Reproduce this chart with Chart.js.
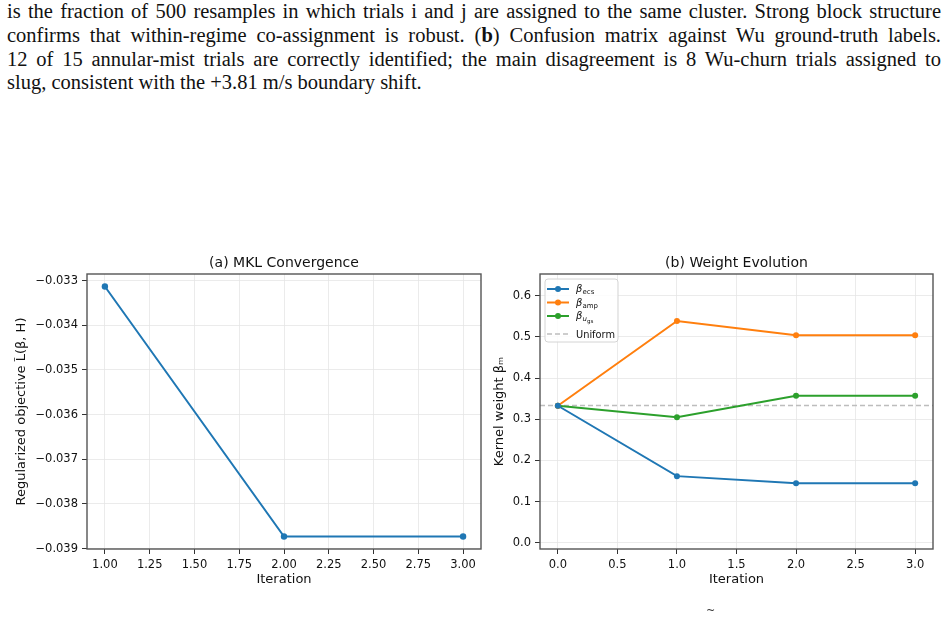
<!DOCTYPE html>
<html>
<head>
<meta charset="utf-8">
<script src="https://cdn.jsdelivr.net/npm/chart.js@4.4.1/dist/chart.umd.min.js"></script>
<style>
  body { margin: 0; width: 948px; height: 618px; background: #fff; position: relative; overflow: hidden; }
  .cap { position: absolute; left: 7px; width: 934px; font-family: "Liberation Serif", serif; font-size: 20.5px; color: #111; line-height: 23.8px; }
  .cap div { text-align: justify; text-align-last: justify; white-space: nowrap; }
  .cap div.last { text-align-last: left; }
  #left { position: absolute; left: 0; top: 250px; }
  #right { position: absolute; left: 490px; top: 250px; }
  .tilde { position: absolute; left: 706px; top: 604px; font: 11px "DejaVu Sans"; color: #333; }
</style>
</head>
<body>
<div class="cap" style="top:0px">
  <div>is the fraction of 500 resamples in which trials i and j are assigned to the same cluster. Strong block structure</div>
  <div>confirms that within-regime co-assignment is robust. (<b>b</b>) Confusion matrix against Wu ground-truth labels.</div>
  <div>12 of 15 annular-mist trials are correctly identified; the main disagreement is 8 Wu-churn trials assigned to</div>
  <div class="last">slug, consistent with the +3.81 m/s boundary shift.</div>
</div>
<canvas id="left" width="490" height="360"></canvas>
<canvas id="right" width="458" height="360"></canvas>
<div class="tilde">~</div>
<script>
// (a) objective per iteration
const iterA = [1, 2, 3];
const objectiveA = [-0.03313, -0.03873, -0.03873];
const xTicksA = [1.0, 1.25, 1.5, 1.75, 2.0, 2.25, 2.5, 2.75, 3.0];
const yTicksA = [-0.039, -0.038, -0.037, -0.036, -0.035, -0.034, -0.033];

// (b) kernel weights per iteration
const iterB = [0, 1, 2, 3];
const betaEcs = [0.333, 0.162, 0.145, 0.145];
const betaAmp = [0.333, 0.539, 0.504, 0.504];
const betaUgs = [0.333, 0.305, 0.357, 0.357];
const uniformLevel = 1 / 3;
const seriesSubs = [["ecs"], ["amp"], ["u", "gs"]];
const xTicksB = [0, 0.5, 1, 1.5, 2, 2.5, 3];
const yTicksB = [0, 0.1, 0.2, 0.3, 0.4, 0.5, 0.6];

const FONT = "DejaVu Sans";
const blue = "#1f77b4", orange = "#ff7f0e", green = "#2ca02c";

const pts = (xs, ys) => xs.map((x, i) => ({ x: x, y: ys[i] }));
const minus = (s) => s.replace("-", "\u2212");

// spines + title drawn around the chart area
const frame = {
  id: "frame",
  afterDatasetsDraw(chart, args, opts) {
    const { ctx, chartArea: a } = chart;
    ctx.save();
    ctx.strokeStyle = "#555";
    ctx.lineWidth = 1.4;
    ctx.strokeRect(a.left, a.top, a.right - a.left, a.bottom - a.top);
    ctx.fillStyle = "#111";
    ctx.font = "14px '" + FONT + "'";
    ctx.textAlign = "center";
    ctx.textBaseline = "middle";
    ctx.fillText(opts.text, (a.left + a.right) / 2, a.top - 11);
    ctx.restore();
  },
};

function axis(min, max, list, fmt, fit, title, titlePad) {
  return {
    type: "linear",
    min: min,
    max: max,
    afterBuildTicks: (s) => { s.ticks = list.map((v) => ({ value: v })); },
    afterFit: fit,
    border: { display: false },
    grid: { color: "#e6e6e6", lineWidth: 0.8, tickLength: 5, tickColor: "#333", tickWidth: 1 },
    ticks: {
      autoSkip: false,
      maxRotation: 0,
      padding: 4,
      color: "#111",
      font: { family: FONT, size: 11.5 },
      callback: (v) => minus(v.toFixed(fmt)),
    },
    title: { display: true, text: title, color: "#111", font: { family: FONT, size: 13 }, padding: titlePad },
  };
}

new Chart(document.getElementById("left"), {
  type: "line",
  data: {
    datasets: [{
      data: pts(iterA, objectiveA),
      borderColor: blue,
      backgroundColor: blue,
      borderWidth: 2,
      pointRadius: 3.2,
      pointBorderWidth: 0,
      tension: 0,
    }],
  },
  options: {
    responsive: false,
    animation: false,
    layout: { padding: { top: 24, right: 9, left: 0, bottom: 0 } },
    scales: {
      x: axis(0.9, 3.1, xTicksA, 2, (s) => { s.height = 61; }, "Iteration", { top: 4, bottom: 23 }),
      y: axis(-0.03901, -0.03285, yTicksA, 3, (s) => { s.width = 87; }, "Regularized objective L\u0303(\u03b2, H)", { top: 14, bottom: 0 }),
    },
    plugins: { legend: { display: false }, tooltip: { enabled: false }, frame: { text: "(a) MKL Convergence" } },
  },
  plugins: [frame],
});

// legend with sub-scripted labels
const mathLegend = {
  id: "mathLegend",
  afterDatasetsDraw(chart) {
    const { ctx, chartArea: a } = chart;
    const x0 = a.left + 5, y0 = a.top + 5;
    ctx.save();
    ctx.beginPath();
    ctx.roundRect(x0, y0, 73, 63, 3);
    ctx.fillStyle = "rgba(255,255,255,0.85)";
    ctx.fill();
    ctx.strokeStyle = "#d4d4d4";
    ctx.lineWidth = 1;
    ctx.stroke();
    const rows = [10, 23.5, 37, 55];
    chart.data.datasets.forEach((ds, i) => {
      const y = y0 + rows[i];
      ctx.strokeStyle = ds.borderColor;
      ctx.lineWidth = ds.borderWidth;
      ctx.setLineDash(ds.borderDash || []);
      ctx.beginPath();
      ctx.moveTo(x0 + 2, y);
      ctx.lineTo(x0 + 24, y);
      ctx.stroke();
      ctx.setLineDash([]);
      if (ds.pointRadius) {
        ctx.fillStyle = ds.borderColor;
        ctx.beginPath();
        ctx.arc(x0 + 13, y, 3, 0, Math.PI * 2);
        ctx.fill();
      }
      ctx.fillStyle = "#111";
      ctx.textBaseline = "alphabetic";
      ctx.textAlign = "left";
      let tx = x0 + 31;
      if (i < seriesSubs.length) {
        ctx.font = "italic 10px '" + FONT + "'";
        ctx.fillText("\u03b2", tx, y + 3);
        tx += 6.5;
        const sub = seriesSubs[i];
        ctx.font = (sub.length > 1 ? "italic " : "") + "7px '" + FONT + "'";
        ctx.fillText(sub[0], tx, y + 5);
        if (sub.length > 1) {
          tx += ctx.measureText(sub[0]).width;
          ctx.font = "5.5px '" + FONT + "'";
          ctx.fillText(sub[1], tx, y + 7);
        }
      } else {
        ctx.font = "9.8px '" + FONT + "'";
        ctx.fillText(ds.label, tx, y + 3.5);
      }
    });
    ctx.restore();
  },
};

const line = (ys, c, label) => ({
  label: label,
  data: pts(iterB, ys),
  borderColor: c,
  backgroundColor: c,
  borderWidth: 2,
  pointRadius: 3,
  pointBorderWidth: 0,
  tension: 0,
});

new Chart(document.getElementById("right"), {
  type: "line",
  data: {
    datasets: [
      line(betaEcs, blue, "ecs"),
      line(betaAmp, orange, "amp"),
      line(betaUgs, green, "ugs"),
      {
        label: "Uniform",
        data: [{ x: -0.15, y: uniformLevel }, { x: 3.15, y: uniformLevel }],
        borderColor: "#bdbdbd",
        borderWidth: 1.5,
        borderDash: [5, 3],
        pointRadius: 0,
      },
    ],
  },
  options: {
    responsive: false,
    animation: false,
    layout: { padding: { top: 24, right: 15, left: 0, bottom: 0 } },
    scales: {
      x: axis(-0.15, 3.15, xTicksB, 1, (s) => { s.height = 61; }, "Iteration", { top: 4, bottom: 23 }),
      y: axis(-0.015, 0.653, yTicksB, 1, (s) => { s.width = 50; }, "Kernel weight \u03b2\u2098", { top: 2, bottom: 0 }),
    },
    plugins: { legend: { display: false }, tooltip: { enabled: false }, frame: { text: "(b) Weight Evolution" } },
  },
  plugins: [frame, mathLegend],
});
</script>
</body>
</html>
